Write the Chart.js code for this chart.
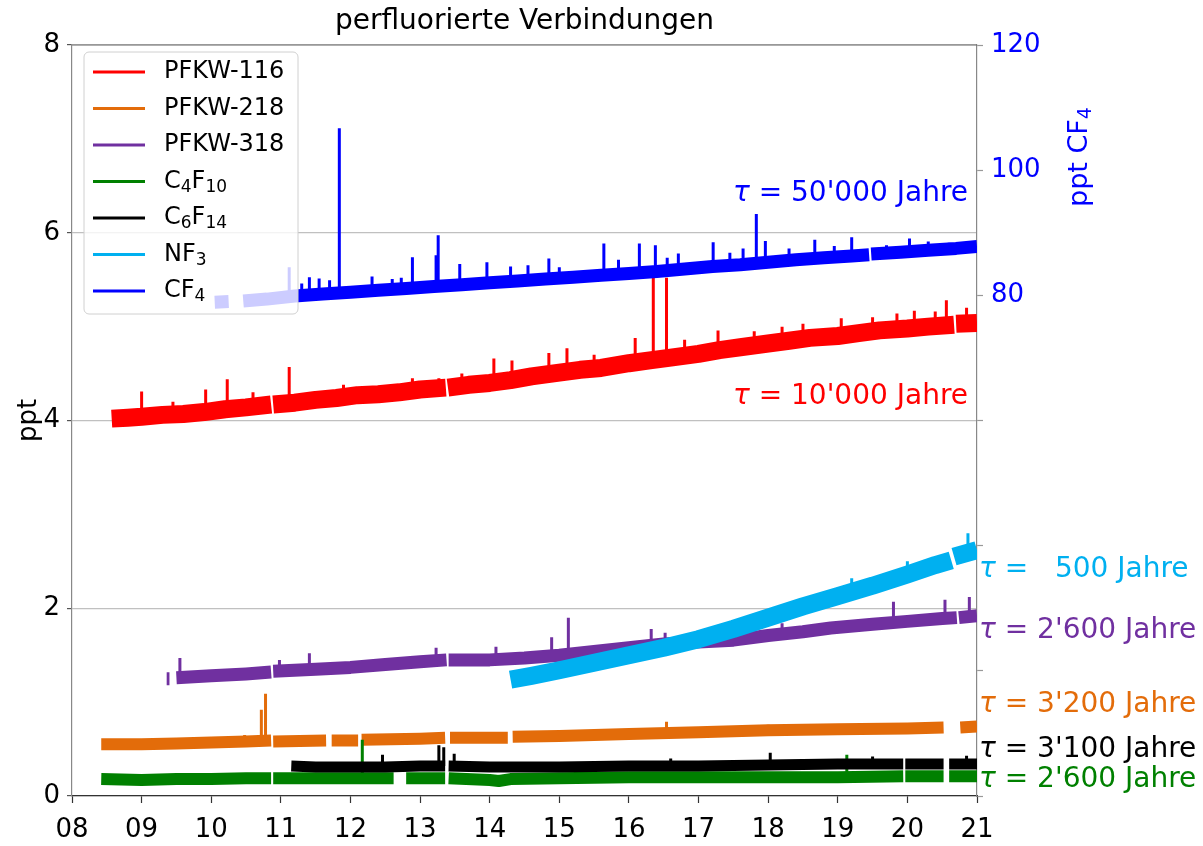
<!DOCTYPE html>
<html lang="de">
<head>
  <meta charset="utf-8">
  <title>perfluorierte Verbindungen</title>
  <script src="https://cdn.jsdelivr.net/npm/chart.js@4.4.0/dist/chart.umd.min.js"></script>
  <style>
    html, body { margin: 0; padding: 0; background: #fff; }
  </style>
</head>
<body>
  <canvas id="myChart" width="1203" height="846"></canvas>
  <script>
    // series names and lifetimes (tau)
    const seriesNames = ['PFKW-116', 'PFKW-218', 'PFKW-318', 'C₄F₁₀', 'C₆F₁₄', 'NF₃', 'CF₄'];
    const lifetimes = ["10'000", "3'200", "2'600", "2'600", "3'100", "  500", "50'000"];
    const yearTicks = ['08', '09', '10', '11', '12', '13', '14', '15', '16', '17', '18', '19', '20', '21'];
    const cf4Ticks = [80, 100, 120];

    // band values [year, ppt]; null = gap in the record
    const pfkw116 = [[2008.57, 4.02], [2008.8, 4.03], [2009.0, 4.04], [2009.3, 4.06], [2009.6, 4.07], [2009.9, 4.09],
      [2010.2, 4.12], [2010.5, 4.14], [2010.86, 4.17], [2010.87, null], [2010.89, 4.17], [2011.2, 4.19], [2011.5, 4.22],
      [2011.8, 4.24], [2012.1, 4.27], [2012.4, 4.28], [2012.7, 4.30], [2013.0, 4.33], [2013.37, 4.35], [2013.38, null],
      [2013.4, 4.35], [2013.7, 4.38], [2014.0, 4.40], [2014.3, 4.43], [2014.6, 4.47], [2015.0, 4.51], [2015.3, 4.54],
      [2015.6, 4.56], [2016.0, 4.61], [2016.3, 4.64], [2016.6, 4.67], [2017.0, 4.71], [2017.3, 4.75], [2017.6, 4.78],
      [2018.0, 4.82], [2018.3, 4.85], [2018.6, 4.88], [2019.0, 4.90], [2019.3, 4.93], [2019.6, 4.96], [2020.0, 4.98],
      [2020.3, 5.00], [2020.67, 5.02], [2020.68, null], [2020.7, 5.03], [2021.0, 5.04]];
    const pfkw218 = [[2008.42, 0.55], [2009.0, 0.55], [2009.5, 0.56], [2010.0, 0.57], [2010.5, 0.58], [2010.86, 0.59],
      [2010.87, null], [2010.89, 0.58], [2011.65, 0.59], [2011.66, null], [2011.73, 0.59], [2012.11, 0.59], [2012.12, null],
      [2012.16, 0.60], [2013.0, 0.61], [2013.36, 0.62], [2013.37, null], [2013.43, 0.62], [2014.26, 0.62],
      [2014.27, null], [2014.33, 0.63], [2015.0, 0.64], [2016.0, 0.66], [2017.0, 0.68], [2018.0, 0.70], [2019.0, 0.71],
      [2020.0, 0.72], [2020.52, 0.73], [2020.54, null], [2020.76, 0.73], [2021.0, 0.74]];
    const pfkw318 = [[2009.36, 1.25], [2009.4, 1.25], [2009.42, null], [2009.5, 1.26], [2010.0, 1.28], [2010.5, 1.30],
      [2010.86, 1.32], [2010.87, null], [2010.89, 1.33], [2011.5, 1.35], [2012.0, 1.37], [2012.5, 1.40], [2013.0, 1.43],
      [2013.38, 1.45], [2013.39, null], [2013.41, 1.45], [2014.0, 1.45], [2014.5, 1.47], [2015.0, 1.50], [2015.5, 1.54],
      [2016.0, 1.58], [2016.5, 1.62], [2017.0, 1.64], [2017.5, 1.66], [2018.0, 1.71], [2018.5, 1.75], [2018.9, 1.79],
      [2019.5, 1.83], [2020.0, 1.86], [2020.5, 1.89], [2020.71, 1.90], [2020.72, null], [2020.74, 1.90], [2021.0, 1.92]];
    const c4f10 = [[2008.42, 0.18], [2009.0, 0.17], [2009.5, 0.18], [2010.0, 0.18], [2010.5, 0.19], [2010.86, 0.19],
      [2010.87, null], [2010.89, 0.19], [2011.5, 0.19], [2012.0, 0.19], [2012.62, 0.19], [2012.64, null], [2012.8, 0.19],
      [2013.36, 0.19], [2013.37, null], [2013.41, 0.19], [2014.0, 0.17], [2014.13, 0.16], [2014.3, 0.18], [2015.0, 0.19],
      [2016.0, 0.20], [2017.0, 0.20], [2018.0, 0.20], [2019.0, 0.20], [2019.94, 0.21], [2019.95, null], [2019.97, 0.21],
      [2020.52, 0.21], [2020.53, null], [2020.6, 0.21], [2021.0, 0.21]];
    const c6f14 = [[2011.15, 0.32], [2011.5, 0.31], [2012.0, 0.31], [2012.5, 0.31], [2013.0, 0.32], [2013.36, 0.32],
      [2013.37, null], [2013.41, 0.32], [2014.0, 0.31], [2015.0, 0.31], [2016.0, 0.32], [2017.0, 0.32], [2018.0, 0.33],
      [2019.0, 0.34], [2019.94, 0.34], [2019.95, null], [2019.97, 0.34], [2020.52, 0.34], [2020.53, null], [2020.6, 0.34],
      [2021.0, 0.34]];
    const nf3 = [[2014.3, 1.24], [2014.6, 1.28], [2015.0, 1.34], [2015.5, 1.42], [2016.0, 1.50], [2016.5, 1.58],
      [2017.0, 1.67], [2017.5, 1.78], [2018.0, 1.90], [2018.5, 2.02], [2019.0, 2.13], [2019.5, 2.24], [2020.0, 2.36],
      [2020.4, 2.46], [2020.63, 2.51], [2020.64, null], [2020.67, 2.55], [2021.0, 2.62]];
    // CF4 in ppt on the right axis
    const cf4 = [[2010.05, 78.9], [2010.25, 79.0], [2010.27, null], [2010.46, 79.1], [2010.8, 79.4], [2011.2, 79.9],
      [2011.6, 80.2], [2012.0, 80.5], [2012.4, 80.8], [2012.8, 81.1], [2013.2, 81.4], [2013.6, 81.7], [2014.0, 82.0],
      [2014.4, 82.3], [2014.8, 82.6], [2015.2, 82.9], [2015.6, 83.2], [2016.0, 83.5], [2016.4, 83.8], [2016.8, 84.2],
      [2017.2, 84.6], [2017.6, 84.9], [2018.0, 85.3], [2018.4, 85.7], [2018.8, 86.0], [2019.2, 86.3], [2019.45, 86.5],
      [2019.46, null], [2019.48, 86.6], [2019.9, 86.9], [2020.3, 87.2], [2020.7, 87.5], [2021.0, 87.8]];

    // single high readings [year, base, peak]
    const pfkw116Spikes = [[2009.0, 4.05, 4.31], [2009.45, 4.07, 4.2], [2009.92, 4.09, 4.33], [2010.23, 4.12, 4.44],
      [2010.6, 4.15, 4.3], [2011.12, 4.19, 4.57], [2011.9, 4.25, 4.38], [2012.89, 4.32, 4.45], [2013.27, 4.35, 4.45],
      [2013.6, 4.37, 4.5], [2014.06, 4.41, 4.66], [2014.32, 4.43, 4.64], [2014.85, 4.5, 4.72], [2015.11, 4.52, 4.77],
      [2015.5, 4.56, 4.7], [2016.09, 4.62, 4.88], [2016.35, 4.64, 5.52], [2016.54, 4.66, 5.52], [2016.8, 4.69, 4.86],
      [2017.28, 4.75, 4.96], [2017.8, 4.8, 4.95], [2018.2, 4.84, 5.0], [2018.5, 4.87, 5.03], [2019.05, 4.91, 5.09],
      [2019.5, 4.95, 5.1], [2019.85, 4.97, 5.14], [2020.1, 4.99, 5.17], [2020.4, 5.0, 5.16], [2020.56, 5.01, 5.28],
      [2020.85, 5.03, 5.2]];
    const pfkw218Spikes = [[2010.48, 0.58, 0.65], [2010.72, 0.59, 0.92], [2010.78, 0.59, 1.09], [2016.54, 0.67, 0.79],
      [2018.0, 0.70, 0.76], [2019.3, 0.71, 0.77]];
    const pfkw318Spikes = [[2009.55, 1.26, 1.47], [2010.98, 1.33, 1.45], [2011.41, 1.35, 1.52], [2013.23, 1.44, 1.58],
      [2014.09, 1.45, 1.59], [2014.89, 1.49, 1.69], [2015.13, 1.51, 1.9], [2016.32, 1.60, 1.78], [2016.52, 1.62, 1.74],
      [2018.2, 1.72, 1.84], [2019.8, 1.85, 2.07], [2020.54, 1.89, 2.09], [2020.89, 1.91, 2.12]];
    const c4f10Spikes = [[2012.17, 0.19, 0.6], [2019.13, 0.2, 0.44]];
    const c6f14Spikes = [[2012.46, 0.31, 0.44], [2013.27, 0.32, 0.54], [2013.34, 0.32, 0.52], [2013.49, 0.32, 0.45],
      [2016.6, 0.32, 0.4], [2018.03, 0.33, 0.46], [2019.5, 0.34, 0.42], [2020.85, 0.34, 0.43]];
    const nf3Spikes = [[2019.2, 2.17, 2.32], [2020.0, 2.36, 2.5], [2020.87, 2.6, 2.8]];
    const cf4Spikes = [[2011.12, 79.8, 84.5], [2011.3, 79.9, 81.9], [2011.41, 80.0, 82.9], [2011.55, 80.1, 82.7],
      [2011.7, 80.3, 82.4], [2011.84, 80.4, 106.7], [2012.31, 80.7, 83.0], [2012.6, 81.0, 82.6], [2012.73, 81.0, 82.8],
      [2012.89, 81.2, 86.1], [2013.23, 81.4, 86.4], [2013.26, 81.4, 89.6], [2013.57, 81.7, 85.0], [2013.96, 82.0, 85.3],
      [2014.3, 82.2, 84.6], [2014.55, 82.4, 84.8], [2014.85, 82.6, 85.9], [2015.0, 82.7, 84.5], [2015.64, 83.2, 88.3],
      [2015.85, 83.4, 85.7], [2016.15, 83.6, 88.3], [2016.38, 83.8, 88.0], [2016.55, 84.0, 86.0], [2016.71, 84.1, 86.7],
      [2017.21, 84.6, 88.5], [2017.45, 84.8, 86.8], [2017.64, 84.9, 87.5], [2017.83, 85.1, 93.0], [2017.96, 85.3, 88.7],
      [2018.3, 85.6, 87.5], [2018.67, 85.9, 88.9], [2018.95, 86.1, 87.9], [2019.2, 86.3, 89.3], [2019.7, 86.7, 88.0],
      [2020.03, 87.0, 89.1], [2020.3, 87.2, 88.6], [2020.6, 87.4, 88.4], [2020.82, 87.6, 88.5]];

    const colors = ['#ff0000', '#e36c0a', '#7030a0', '#008000', '#000000', '#00b0f0', '#0000ff'];
    const FONT = 'DejaVu Sans';
    Chart.defaults.font.family = FONT;

    function band(list) {
      return list.map(p => ({ x: p[0], y: p[1] }));
    }
    function spikes(list) {
      const out = [];
      list.forEach(s => {
        out.push({ x: s[0], y: s[1] }, { x: s[0], y: s[2] }, { x: s[0], y: null });
      });
      return out;
    }
    function ds(data, color, width, axis) {
      return {
        data: data, borderColor: color, backgroundColor: color, borderWidth: width,
        pointRadius: 0, tension: 0, spanGaps: false, fill: false,
        borderCapStyle: 'butt', borderJoinStyle: 'round', yAxisID: axis || 'y'
      };
    }

    // first dataset is drawn on top
    const datasets = [
      ds(band(nf3), colors[5], 18), ds(spikes(nf3Spikes), colors[5], 3),
      ds(band(c6f14), colors[4], 11), ds(spikes(c6f14Spikes), colors[4], 3),
      ds(band(c4f10), colors[3], 12), ds(spikes(c4f10Spikes), colors[3], 3),
      ds(band(pfkw318), colors[2], 13), ds(spikes(pfkw318Spikes), colors[2], 3),
      ds(band(pfkw218), colors[1], 12), ds(spikes(pfkw218Spikes), colors[1], 3),
      ds(band(cf4), colors[6], 13, 'y2'), ds(spikes(cf4Spikes), colors[6], 3, 'y2'),
      ds(band(pfkw116), colors[0], 18), ds(spikes(pfkw116Spikes), colors[0], 3)
    ];

    // tau labels: index into series, anchor value on left axis, inside plot or not
    const tauPlaces = [
      { s: 6, v: 6.42, inside: true }, { s: 0, v: 4.25, inside: true },
      { s: 5, v: 2.41 }, { s: 2, v: 1.76 }, { s: 1, v: 0.97 }, { s: 4, v: 0.49 }, { s: 3, v: 0.17 }
    ];

    // text with subscript digits drawn smaller and lower
    const SUB = '₀₁₂₃₄₅₆₇₈₉';
    function runs(text) {
      const out = [];
      for (const ch of text) {
        const k = SUB.indexOf(ch);
        const sub = k >= 0;
        const c = sub ? String(k) : ch;
        if (out.length && out[out.length - 1].sub === sub) out[out.length - 1].t += c;
        else out.push({ t: c, sub: sub });
      }
      return out;
    }
    function richWidth(ctx, text, size) {
      let w = 0;
      runs(text).forEach(r => {
        ctx.font = Math.round(r.sub ? size * 0.7 : size) + 'px ' + FONT;
        w += ctx.measureText(r.t).width;
      });
      return w;
    }
    function drawRich(ctx, text, x, y, size) {
      let cx = x;
      runs(text).forEach(r => {
        ctx.font = Math.round(r.sub ? size * 0.7 : size) + 'px ' + FONT;
        ctx.fillText(r.t, cx, r.sub ? y + size * 0.24 : y);
        cx += ctx.measureText(r.t).width;
      });
    }

    const overlay = {
      id: 'overlay',
      afterDatasetsDraw(chart) {
        const ctx = chart.ctx;
        const a = chart.chartArea;
        const y = chart.scales.y;
        ctx.save();
        // top frame line
        ctx.strokeStyle = '#707070';
        ctx.lineWidth = 1.2;
        ctx.beginPath();
        ctx.moveTo(a.left, a.top);
        ctx.lineTo(a.right, a.top);
        ctx.stroke();

        // legend
        const lx = 84, ly = 52, lw = 214, lh = 262;
        ctx.beginPath();
        ctx.roundRect(lx, ly, lw, lh, 5);
        ctx.fillStyle = 'rgba(255,255,255,0.8)';
        ctx.fill();
        ctx.strokeStyle = '#d0d0d0';
        ctx.lineWidth = 1;
        ctx.stroke();
        ctx.textBaseline = 'middle';
        ctx.textAlign = 'left';
        seriesNames.forEach((name, i) => {
          const ry = 72 + i * 36.5;
          ctx.strokeStyle = colors[i];
          ctx.lineWidth = 3;
          ctx.beginPath();
          ctx.moveTo(93, ry);
          ctx.lineTo(145, ry);
          ctx.stroke();
          ctx.fillStyle = '#000';
          drawRich(ctx, name, 164, ry, 24);
        });

        // lifetimes
        tauPlaces.forEach(t => {
          const rest = ' = ' + lifetimes[t.s] + ' Jahre';
          ctx.font = 'italic 28px ' + FONT;
          const wt = ctx.measureText('τ').width;
          ctx.font = '28px ' + FONT;
          const wr = ctx.measureText(rest).width;
          const x0 = t.inside ? a.right - 9 - wt - wr : a.right + 2;
          const py = y.getPixelForValue(t.v);
          ctx.fillStyle = colors[t.s];
          ctx.font = 'italic 28px ' + FONT;
          ctx.fillText('τ', x0, py);
          ctx.font = '28px ' + FONT;
          ctx.fillText(rest, x0 + wt, py);
        });

        // right axis title
        ctx.translate(1080, 157);
        ctx.rotate(-Math.PI / 2);
        ctx.fillStyle = colors[6];
        const tw = richWidth(ctx, 'ppt CF₄', 27);
        drawRich(ctx, 'ppt CF₄', -tw / 2, 0, 27);
        ctx.restore();
      }
    };

    new Chart(document.getElementById('myChart'), {
      type: 'line',
      data: { datasets: datasets },
      plugins: [overlay],
      options: {
        responsive: false,
        animation: false,
        layout: { padding: 0 },
        plugins: {
          legend: { display: false },
          tooltip: { enabled: false },
          title: {
            display: true, text: 'perfluorierte Verbindungen', fullSize: false,
            color: '#000', font: { size: 28, weight: 'normal' }, padding: { top: 5, bottom: 6.4 }
          }
        },
        scales: {
          x: {
            type: 'linear', position: 'bottom', min: 2008, max: 2021,
            ticks: {
              stepSize: 1, autoSkip: false, maxRotation: 0, color: '#000', font: { size: 26 }, padding: 12,
              callback: v => yearTicks[Math.round(v - 2008)]
            },
            grid: { drawOnChartArea: false, tickLength: 7, tickColor: '#333', tickWidth: 1.2 },
            border: { color: '#333', width: 1.2 },
            afterFit: s => { s.height = 50; }
          },
          y: {
            position: 'left', min: 0, max: 8,
            ticks: { stepSize: 2, color: '#000', font: { size: 26 }, padding: 7 },
            grid: { color: '#c0c0c0', lineWidth: 1.2, tickLength: 5, tickColor: '#555' },
            border: { color: '#888', width: 1.2 },
            title: { display: true, text: 'ppt', color: '#000', font: { size: 26 }, padding: { top: 14, bottom: 0 } },
            afterFit: s => { s.width = 72; }
          },
          y2: {
            position: 'right', min: 0, max: 120,
            ticks: {
              stepSize: 20, color: colors[6], font: { size: 26 }, padding: 8,
              callback: v => cf4Ticks.includes(v) ? String(v) : ''
            },
            grid: { drawOnChartArea: false, tickLength: 6, tickColor: '#999', tickWidth: 1.2 },
            border: { color: '#888', width: 1.2 },
            afterFit: s => { s.width = 226; }
          }
        }
      }
    });
  </script>
</body>
</html>
